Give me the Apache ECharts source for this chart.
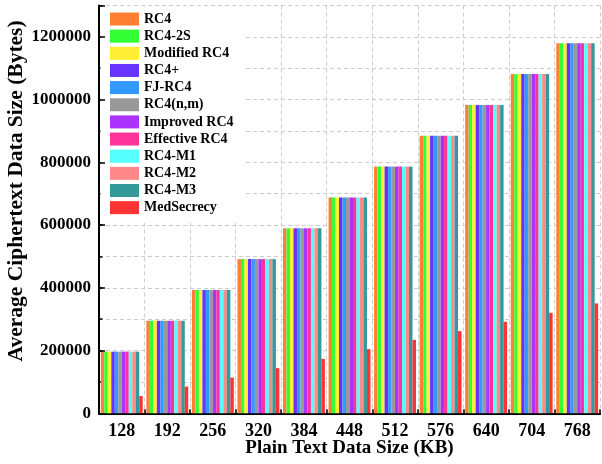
<!DOCTYPE html>
<html>
<head>
<meta charset="utf-8">
<script src="https://cdn.jsdelivr.net/npm/echarts@6/dist/echarts.min.js"></script>
<style>
html,body{margin:0;padding:0;background:#fff;}
#chart{width:602px;height:464px;}
</style>
</head>
<body>
<div id="chart"></div>
<script>
// Category labels (plain text size in KB)
const categories = ['128','192','256','320','384','448','512','576','640','704','768'];

// Series names and colours
const seriesNames = ['RC4','RC4-2S','Modified RC4','RC4+','FJ-RC4','RC4(n,m)','Improved RC4','Effective RC4','RC4-M1','RC4-M2','RC4-M3','MedSecrecy'];
const seriesColors = ['#FF8033','#33FF33','#FFEE33','#6633FF','#3399FF','#999999','#AA33FF','#FF3399','#55FFFF','#FF8888','#339999','#FF3333'];

// Values (bytes)
const rc4 =          [196600,294900,393200,491500,589800,688100,786400,884700,983000,1081300,1179600];
const rc4_2s =       [196600,294900,393200,491500,589800,688100,786400,884700,983000,1081300,1179600];
const modifiedRc4 =  [196600,294900,393200,491500,589800,688100,786400,884700,983000,1081300,1179600];
const rc4Plus =      [196600,294900,393200,491500,589800,688100,786400,884700,983000,1081300,1179600];
const fjRc4 =        [196600,294900,393200,491500,589800,688100,786400,884700,983000,1081300,1179600];
const rc4nm =        [196600,294900,393200,491500,589800,688100,786400,884700,983000,1081300,1179600];
const improvedRc4 =  [196600,294900,393200,491500,589800,688100,786400,884700,983000,1081300,1179600];
const effectiveRc4 = [196600,294900,393200,491500,589800,688100,786400,884700,983000,1081300,1179600];
const rc4M1 =        [196600,294900,393200,491500,589800,688100,786400,884700,983000,1081300,1179600];
const rc4M2 =        [196600,294900,393200,491500,589800,688100,786400,884700,983000,1081300,1179600];
const rc4M3 =        [196600,294900,393200,491500,589800,688100,786400,884700,983000,1081300,1179600];
const medSecrecy =   [55300,85000,113700,143800,173500,204500,234200,262000,291700,320400,350200];

const seriesData = [rc4,rc4_2s,modifiedRc4,rc4Plus,fjRc4,rc4nm,improvedRc4,effectiveRc4,rc4M1,rc4M2,rc4M3,medSecrecy];

// Y tick values
const yMax = 1300000;
const yMajorStep = 200000;
const yMinorStep = 100000;

const FONT = '"Liberation Serif", "Times New Roman", serif';

const chart = echarts.init(document.getElementById('chart'), null, {renderer:'canvas'});

const series = seriesNames.map((name, i) => ({
  name: name,
  type: 'bar',
  xAxisIndex: 0,
  yAxisIndex: 0,
  data: seriesData[i],
  itemStyle: {color: seriesColors[i]},
  barGap: '0%',
  barCategoryGap: '8%',
  animation: false
}));

chart.setOption({
  animation: false,
  backgroundColor: '#fff',
  grid: {left: 99, right: 2, top: 5.5, bottom: 50.7, containLabel: false, outerBoundsMode: 'none'},
  legend: {
    orient: 'vertical',
    left: 100.5,
    top: 6.5,
    padding: [5.5, 10, 8, 9.5],
    backgroundColor: '#fff',
    itemWidth: 29,
    itemHeight: 13,
    itemGap: 3.15,
    selectedMode: false,
    icon: 'rect',
    data: seriesNames,
    textStyle: {fontFamily: FONT, fontWeight: 'bold', fontSize: 14, color: '#000', padding: [0,0,0,0]}
  },
  xAxis: [{
    type: 'category',
    data: categories,
    position: 'bottom',
    name: 'Plain Text Data Size (KB)',
    nameLocation: 'middle',
    nameGap: 25.5,
    nameMoveOverlap: false,
    nameTextStyle: {fontFamily: FONT, fontWeight: 'bold', fontSize: 19, color: '#000'},
    axisLine: {show: true, lineStyle: {color: '#000', width: 2}},
    axisTick: {show: true, inside: true, length: 4, lineStyle: {color: '#000', width: 1.5}},
    axisLabel: {fontFamily: FONT, fontWeight: 'bold', fontSize: 18, color: '#000', margin: 9.5},
    splitLine: {show: true, lineStyle: {color: '#cccccc', type: [4, 3], width: 1}}
  }, {
    type: 'category',
    data: categories,
    position: 'top',
    axisLine: {show: true, lineStyle: {color: '#000', width: 2}},
    axisTick: {show: false},
    axisLabel: {show: false},
    splitLine: {show: false}
  }],
  yAxis: [{
    type: 'value',
    min: 0,
    max: yMax,
    interval: yMajorStep,
    position: 'left',
    name: 'Average Ciphertext Data Size (Bytes)',
    nameLocation: 'middle',
    nameGap: 72,
    nameMoveOverlap: false,
    nameTextStyle: {fontFamily: FONT, fontWeight: 'bold', fontSize: 21.5, color: '#000', padding: [0, 0, 0, 37]},
    axisLine: {show: true, lineStyle: {color: '#000', width: 2}},
    axisTick: {show: true, inside: true, length: 6, lineStyle: {color: '#000', width: 1.5}},
    axisLabel: {
      fontFamily: FONT, fontWeight: 'bold', fontSize: 17, color: '#000', margin: 8,
      formatter: v => (v % yMajorStep === 0 && v <= 1200000 ? String(v) : '')
    },
    splitLine: {show: false},
    z: 10
  }, {
    type: 'value',
    min: 0,
    max: yMax,
    interval: yMinorStep,
    position: 'left',
    axisLine: {show: false},
    axisTick: {show: true, inside: true, length: 3.5, lineStyle: {color: '#000', width: 1.5}},
    axisLabel: {show: false},
    splitLine: {show: true, lineStyle: {color: '#cccccc', type: [4, 3], width: 1}}
  }],
  series: series
});
</script>
</body>
</html>
